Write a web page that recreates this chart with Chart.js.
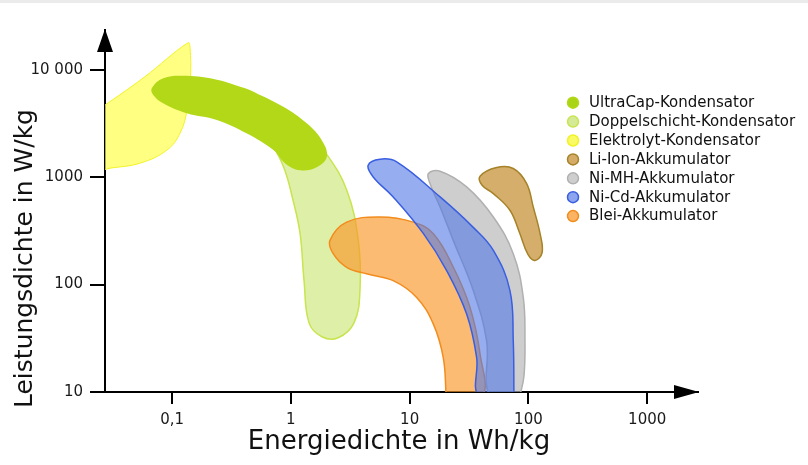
<!DOCTYPE html>
<html>
<head>
<meta charset="utf-8">
<script src="https://cdn.jsdelivr.net/npm/chart.js@4.4.1/dist/chart.umd.min.js"></script>
<style>
html,body{margin:0;padding:0;background:#fff;}
#wrap{position:relative;width:808px;height:465px;overflow:hidden;}
#strip{position:absolute;left:0;top:0;width:808px;height:3px;background:#ebebeb;}
canvas{display:block;}
</style>
</head>
<body>
<div id="wrap"><canvas id="c" width="808" height="465"></canvas><div id="strip"></div></div>
<script>
// ---- data (Energiedichte in Wh/kg, Leistungsdichte in W/kg) ----
const seriesNames = ['UltraCap-Kondensator','Doppelschicht-Kondensator','Elektrolyt-Kondensator',
  'Li-Ion-Akkumulator','Ni-MH-Akkumulator','Ni-Cd-Akkumulator','Blei-Akkumulator'];

const xTickValues = [0.1, 1, 10, 100, 1000];
const xTickLabels = ['0,1', '1', '10', '100', '1000'];
const yTickValues = [10, 100, 1000, 10000];
const yTickLabels = ['10', '100', '1000', '10 000'];

const ultraCapEnergy = [0.451,0.863,1.360,1.815,2.009,1.648,1.195,0.892,0.712,0.423,0.238,0.133,0.084,0.0694,0.0674,0.0842,0.1329,0.2381,0.451];
const ultraCapPower  = [6503,4540,3177,2218,1548,1240,1163,1352,1788,2561,3410,3939,4885,5838,6745,8364,8790,8064,6503];

const doppelEnergy = [0.189,0.551,1.316,1.972,2.956,3.695,3.817,3.401,2.501,1.825,1.422,1.291,1.195,1.042,0.8754,0.6936,0.453,0.231,0.189];
const doppelPower  = [5838,4811,2750,1676,756,258,88,44,32,32.7,44,109,300,613,1218,1994,3266,4228,5838];

const elektrolytEnergy = [0.0225,0.0581,0.1362,0.1416,0.1429,0.1336,0.1168,0.0904,0.0538,0.0300,0.0225,0.0225];
const elektrolytPower  = [4050,8511,17880,16050,8603,4228,2578,1788,1352,1214,1163,4050];

const liIonEnergy = [84.85,69.9,50.66,40.74,39.15,54.0,74.53,96.65,109.8,125.4,130.4,113.8,99.1,84.85];
const liIonPower  = [298,492,704,842,1022,1232,1206,873,528,298,199,168,191,298];

const niMHEnergy = [84.85,47.51,44.47,34.32,23.29,18.04,14.84,14.4,18.04,30.19,50.66,74.53,90.5,93.52,91.74,84.85];
const niMHPower  = [9.2,9.2,30,88,258,528,873,1083,1138,812,426,194,76,30,14.1,9.2];

const niCdEnergy = [75.53,38.34,36.67,30.19,20.5,13.07,7.27,4.935,4.474,5.64,7.78,18.04,34.13,50.66,69.9,74.53,75.53];
const niCdPower  = [9.2,9.2,20.9,53.2,135,298,655,1006,1295,1473,1390,655,343,208,88,30,9.2];

const bleiEnergy = [20.3,19.19,15.84,11.46,7.27,4.344,2.948,2.272,2.135,2.948,5.64,10.73,15.84,23.34,32.24,39.18,40.74,20.3];
const bleiPower  = [9.2,20.9,42.9,76,109,126,145,194,258,382,426,382,298,145,61.4,22.5,9.2,9.2];

// ---- styles ----
const fills   = ['rgb(178,216,24)','rgba(190,225,80,0.5)','rgba(255,255,70,0.68)','rgba(195,140,45,0.7)','rgba(180,180,180,0.65)','rgba(80,120,230,0.6)','rgba(250,150,40,0.65)'];
const borders = ['rgb(178,216,24)','rgb(200,228,80)','rgb(242,242,40)','rgb(166,130,40)','rgb(176,176,176)','rgb(58,94,224)','rgb(242,140,28)'];
const borderWidths = [0,1.5,1,1.5,1.5,1.5,1.5];
const legendFills = ['rgb(170,212,22)','rgb(212,234,150)','rgb(250,250,100)','rgb(212,172,104)','rgb(206,206,206)','rgb(140,165,238)','rgb(250,180,100)'];
const drawOrder = [0,5,6,4,2,1,3];

function pts(xs, ys) { return xs.map((x, i) => ({x: x, y: ys[i]})); }
const shapeData = [
  pts(ultraCapEnergy, ultraCapPower),
  pts(doppelEnergy, doppelPower),
  pts(elektrolytEnergy, elektrolytPower),
  pts(liIonEnergy, liIonPower),
  pts(niMHEnergy, niMHPower),
  pts(niCdEnergy, niCdPower),
  pts(bleiEnergy, bleiPower)
];

const FONT = '"DejaVu Sans", "Liberation Sans", sans-serif';

const decorPlugin = {
  id: 'decor',
  afterDraw(chart) {
    const ctx = chart.ctx;
    const a = chart.chartArea;
    ctx.save();
    // arrows
    ctx.fillStyle = '#000';
    ctx.beginPath();
    ctx.moveTo(a.left, a.top - 1);
    ctx.lineTo(a.left - 8, a.top + 22);
    ctx.lineTo(a.left + 8, a.top + 22);
    ctx.closePath(); ctx.fill();
    ctx.beginPath();
    ctx.moveTo(a.right + 1, a.bottom);
    ctx.lineTo(a.right - 24, a.bottom - 7);
    ctx.lineTo(a.right - 24, a.bottom + 7);
    ctx.closePath(); ctx.fill();
    // axis titles
    ctx.fillStyle = '#111';
    ctx.textBaseline = 'alphabetic';
    ctx.font = '26px ' + FONT;
    ctx.textAlign = 'center';
    ctx.fillText('Energiedichte in Wh/kg', 399, 449);
    ctx.save();
    ctx.font = '25px ' + FONT;
    ctx.translate(32, 408);
    ctx.rotate(-Math.PI / 2);
    ctx.textAlign = 'left';
    ctx.fillText('Leistungsdichte in W/kg', 0, 0);
    ctx.restore();
    // legend
    ctx.font = '15px ' + FONT;
    ctx.textAlign = 'left';
    ctx.textBaseline = 'middle';
    chart.data.datasets.forEach((ds, i) => {
      const y = 102.7 + i * 18.9;
      ctx.beginPath();
      ctx.arc(573, y, 5.5, 0, Math.PI * 2);
      ctx.fillStyle = legendFills[i];
      ctx.fill();
      ctx.lineWidth = 1.5;
      ctx.strokeStyle = borders[i];
      ctx.stroke();
      ctx.fillStyle = '#111';
      ctx.fillText(ds.label, 589, y + 0.5);
    });
    ctx.restore();
  }
};

new Chart(document.getElementById('c'), {
  type: 'line',
  data: {
    datasets: seriesNames.map((name, i) => ({
      label: name,
      data: shapeData[i],
      backgroundColor: fills[i],
      borderColor: borders[i],
      borderWidth: borderWidths[i],
      fill: 'shape',
      tension: 0.4,
      pointRadius: 0,
      pointHitRadius: 0,
      order: drawOrder[i],
      clip: 0
    }))
  },
  options: {
    responsive: false,
    animation: false,
    events: [],
    layout: { padding: { top: 30, right: 110, left: 0, bottom: 0 } },
    elements: { line: { capBezierPoints: false, borderJoinStyle: 'round' } },
    plugins: { legend: { display: false }, tooltip: { enabled: false } },
    scales: {
      x: {
        type: 'logarithmic',
        min: 0.02723, max: 2678,
        bounds: 'data',
        z: 1,
        afterBuildTicks: s => { s.ticks = xTickValues.map(v => ({value: v})); },
        afterFit: s => { s.height = 73; },
        ticks: {
          autoSkip: false, maxRotation: 0, padding: 7,
          color: '#1a1a1a', font: { family: FONT, size: 15 },
          callback: (v, i) => xTickLabels[i]
        },
        grid: { display: true, drawOnChartArea: false, drawTicks: true, tickLength: 12, color: '#000', lineWidth: 2 },
        border: { display: true, color: '#000', width: 2 },
        title: { display: false }
      },
      y: {
        type: 'logarithmic',
        min: 10, max: 23480,
        bounds: 'data',
        z: 1,
        afterBuildTicks: s => { s.ticks = yTickValues.map(v => ({value: v})); },
        afterFit: s => { s.width = 105; },
        ticks: {
          autoSkip: false, padding: 7,
          color: '#1a1a1a', font: { family: FONT, size: 15 },
          callback: (v, i) => yTickLabels[i]
        },
        grid: { display: true, drawOnChartArea: false, drawTicks: true, tickLength: 15, color: '#000', lineWidth: 2 },
        border: { display: true, color: '#000', width: 2 },
        title: { display: false }
      }
    }
  },
  plugins: [decorPlugin]
});
</script>
</body>
</html>
